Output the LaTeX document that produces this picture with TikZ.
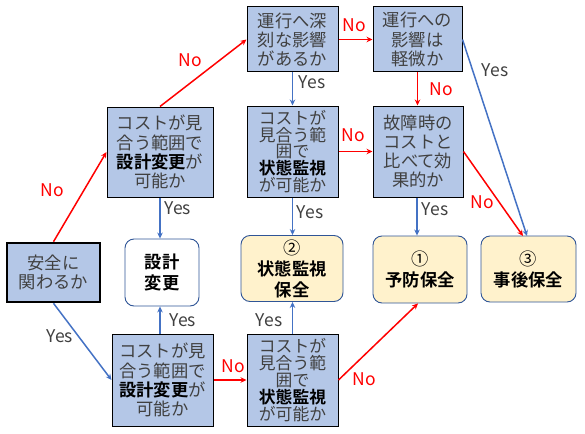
\documentclass[tikz,border=0pt]{standalone}
\usepackage{fontspec}
\setmainfont{Noto Sans CJK JP}[BoldFont={Noto Sans CJK JP Bold}]
\usetikzlibrary{arrows.meta}
\definecolor{qblue}{HTML}{B4C7E7}
\definecolor{yel}{HTML}{FFF2CC}
\definecolor{bord}{HTML}{2F5597}
\definecolor{lblue}{HTML}{4472C4}
\definecolor{lred}{HTML}{FF0000}
\definecolor{tgray}{HTML}{404040}
\tikzset{
  qbox/.style={draw=black, fill=qblue, line width=1pt, text=tgray, align=center, inner sep=0pt,
    font=\fontsize{17.3}{19.2}\selectfont},
  qtight/.style={qbox, font=\fontsize{16.8}{16.8}\selectfont},
  resbox/.style={draw=bord, fill=yel, rounded corners=9pt, line width=0.9pt, align=center, inner sep=0pt,
    text=black, font=\fontsize{17.3}{21}\selectfont\bfseries},
  yarr/.style={draw=lblue, line width=1.5pt, -{Stealth[length=6pt,width=5.5pt]}},
  narr/.style={draw=lred, line width=1.5pt, -{Stealth[length=6pt,width=5.5pt]}},
  ylab/.style={text=tgray, font=\fontsize{17.5}{17.5}\selectfont, inner sep=0pt},
  nlab/.style={text=lred, font=\fontsize{17.5}{17.5}\selectfont, inner sep=0pt},
  thickq/.style={qbox, line width=2.6pt},
}
\begin{document}
\begin{tikzpicture}[x=1pt,y=-1pt]
\useasboundingbox (0,0) rectangle (585,433);
% question boxes
\node[thickq, minimum width=93pt, minimum height=59pt] (A) at (53.5,272.5) {安全に\\関わるか};
\node[qbox, minimum width=106pt, minimum height=90pt] (B) at (160,152) {コストが見\\合う範囲で\\{\color{black}\bfseries 設計変更}が\\可能か};
\node[qbox, minimum width=91pt, minimum height=65pt] (C) at (292.5,39.5) {運行へ深\\刻な影響\\があるか};
\node[qbox, minimum width=89pt, minimum height=65pt] (D) at (417.5,39.5) {運行への\\影響は\\軽微か};
\node[qtight, minimum width=91pt, minimum height=91pt] (E) at (292.5,151.5) {コストが\\見合う範\\囲で\\{\color{black}\bfseries 状態監視}\\が可能か};
\node[qbox, minimum width=90pt, minimum height=91pt] (F) at (418,151.5) {故障時の\\コストと\\比べて効\\果的か};
\node[qbox, minimum width=101pt, minimum height=92pt] (K) at (162.5,380) {コストが見\\合う範囲で\\{\color{black}\bfseries 設計変更}が\\可能か};
\node[qtight, minimum width=91pt, minimum height=92pt] (L) at (292.5,380) {コストが\\見合う範\\囲で\\{\color{black}\bfseries 状態監視}\\が可能か};
% result boxes
\node[resbox, fill=white, minimum width=74pt, minimum height=67pt] (G) at (162,272.5) {設計\\変更};
\node[resbox, minimum width=102pt, minimum height=66pt] (H) at (292,268.5) {{\mdseries ②}\\状態監視\\保全};
\node[resbox, minimum width=94pt, minimum height=67pt] (I) at (420,269.5) {{\mdseries ①}\\予防保全};
\node[resbox, minimum width=95pt, minimum height=66pt] (J) at (528.5,269) {{\mdseries ③}\\事後保全};
% connectors
\coordinate (Jt) at (525,236);
\draw[narr] (A.north) -- (B.west);
\draw[yarr] (A.south) -- (K.west);
\draw[narr] (B.north) -- (C.west);
\draw[yarr] (B.south) -- (B.south |- G.north);
\draw[yarr] (C.south) -- (E.north);
\draw[narr] (C.east) -- (D.east -| D.west);
\draw[narr] (D.south) -- (D.south |- F.north);
\draw[yarr] (D.east) -- ([xshift=2pt]Jt);
\draw[narr] (E.east) -- (F.west);
\draw[yarr] (E.south) -- (E.south |- H.north);
\draw[yarr] (F.south -| I.north) ++(-3,0) coordinate (Fs) -- (Fs |- I.north);
\draw[narr] (F.east) -- ([xshift=-2pt]Jt);
\draw[yarr] (K.north -| B.south) coordinate (Kn) -- (Kn |- G.south);
\draw[narr] (K.east) -- (L.west);
\draw[yarr] (L.north) -- (L.north |- H.south);
\draw[narr] (L.east) -- ([xshift=-2pt]I.south);
% labels
\node[nlab] (l1) at (52,190) {No};
\node[ylab] (l2) at (60,336) {Yes};
\node[nlab] (l3) at (190,60) {No};
\node[ylab] (l4) at (178,208) {Yes};
\node[ylab] (l5) at (312,82) {Yes};
\node[nlab] (l6) at (354,25) {No};
\node[nlab] (l7) at (441,89) {No};
\node[ylab] (l8) at (495,70) {Yes};
\node[nlab] (l9) at (353,135) {No};
\node[ylab] (l10) at (310,212) {Yes};
\node[ylab] (l11) at (435,209) {Yes};
\node[nlab] (l12) at (482,202) {No};
\node[ylab] (l13) at (183,320) {Yes};
\node[nlab] (l14) at (233,366) {No};
\node[ylab] (l15) at (269,320) {Yes};
\node[nlab] (l16) at (364,379) {No};
\end{tikzpicture}
\end{document}
